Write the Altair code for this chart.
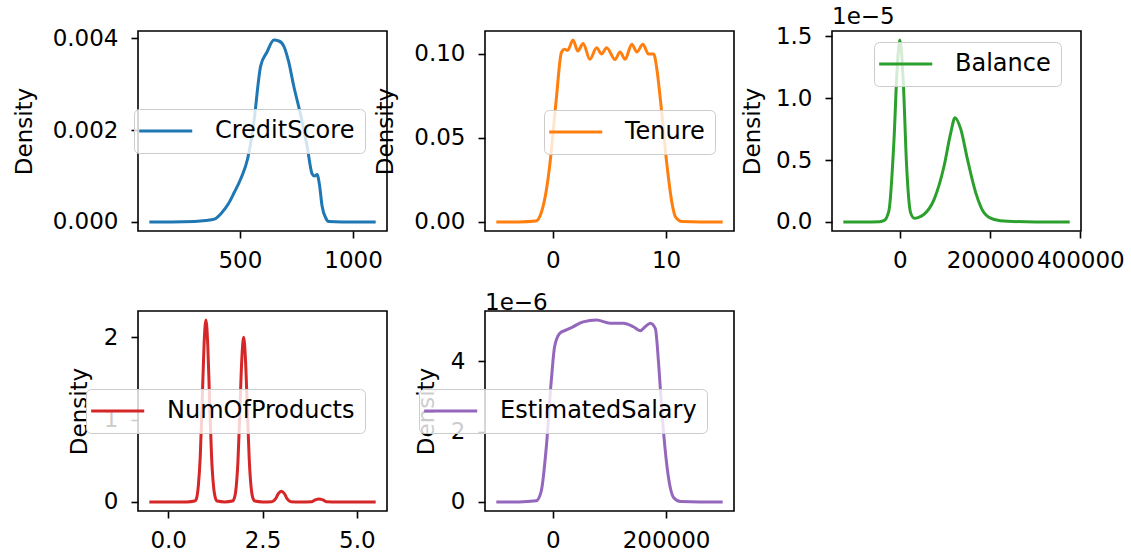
import altair as alt
import pandas as pd

# ---------------- data (KDE curves) ----------------
credit_x = [100, 200, 300, 350, 387, 420, 450, 475, 505, 534, 560, 592, 620, 650, 672, 694,
            715, 738, 770, 797, 819, 830, 841, 852, 863, 880, 892, 950, 1000, 1100]
credit_y = [0, 0, 0.00001, 0.00003, 0.00006, 0.0002, 0.0004, 0.00064, 0.00095, 0.00137,
            0.0021, 0.0034, 0.0037, 0.00396, 0.00394, 0.00383, 0.0035, 0.00296, 0.0023,
            0.00165, 0.00105, 0.001, 0.00103, 0.0008, 0.00035, 0.00008, 0.00001, 0, 0, 0]

tenure_x = [-5, -3, -1.5, -1.03, -0.6, -0.29, 0.3, 0.75, 1.04, 1.3, 1.78, 2.2, 2.67, 3.27,
            3.86, 4.3, 4.75, 5.49, 5.93, 6.38, 6.97, 7.42, 7.95, 8.45, 8.9, 9.2, 9.49, 10.09,
            10.5, 10.83, 11.42, 13, 15]
tenure_y = [0, 0, 0.0005, 0.0054, 0.018, 0.033, 0.073, 0.1006, 0.1025, 0.102, 0.108, 0.1015,
            0.106, 0.0966, 0.1035, 0.0997, 0.1035, 0.0964, 0.101, 0.0966, 0.1055, 0.101,
            0.1055, 0.0997, 0.0997, 0.09, 0.073, 0.033, 0.012, 0.003, 0.0002, 0, 0]

# Balance density in units of 1e-5
balance_x = [-125449, -80000, -45000, -35500, -24400, -13300, -5800, 0, 7500, 14900, 23800,
             32000, 40000, 53300, 75600, 97800, 112700, 122200, 134900, 149800, 168200,
             186700, 208900, 238700, 300000, 376347]
balance_y = [0, 0, 0.002, 0.01, 0.09, 0.65, 1.26, 1.47, 1.127, 0.45, 0.073, 0.03, 0.035,
             0.06, 0.18, 0.45, 0.72, 0.843, 0.75, 0.505, 0.235, 0.073, 0.02, 0.005, 0, 0]

products_x = [-0.5, 0.5, 0.7, 0.75, 0.8, 0.85, 0.9, 0.95, 1.0, 1.05, 1.1, 1.15, 1.2, 1.25,
              1.3, 1.5, 1.7, 1.75, 1.8, 1.85, 1.9, 1.95, 2.0, 2.05, 2.1, 2.15, 2.2, 2.25,
              2.3, 2.5, 2.75, 2.85, 2.92, 3.0, 3.08, 3.15, 3.25, 3.5, 3.8, 3.9, 4.0, 4.1,
              4.2, 4.5, 5.5]
products_y = [0, 0, 0.01, 0.04, 0.2, 0.55, 1.2, 1.9, 2.21, 1.9, 1.2, 0.55, 0.2, 0.05,
              0.01, 0, 0.01, 0.04, 0.17, 0.5, 1.1, 1.72, 2.0, 1.72, 1.1, 0.5, 0.17, 0.04,
              0.01, 0, 0.003, 0.04, 0.1, 0.13, 0.1, 0.04, 0.003, 0, 0.003, 0.025, 0.035,
              0.025, 0.003, 0, 0]

# EstimatedSalary density in units of 1e-6
salary_x = [-99979, -60000, -29600, -20600, -11700, -2800, 3000, 11900, 23800, 35600, 53400,
            77200, 100900, 124600, 142300, 154300, 163000, 172100, 181000, 186800, 192900,
            201800, 213500, 225500, 260000, 299982]
salary_y = [0, 0, 0.03, 0.31, 1.55, 3.46, 4.41, 4.79, 4.89, 4.98, 5.12, 5.17, 5.08, 5.08,
            4.98, 4.87, 4.98, 5.08, 4.93, 3.93, 2.5, 0.98, 0.12, 0.01, 0, 0]

names = ["CreditScore", "Tenure", "Balance", "NumOfProducts", "EstimatedSalary"]
colors = ["#1f77b4", "#ff7f0e", "#2ca02c", "#d62728", "#9467bd"]

FONT = "DejaVu Sans"
FS = 23

panels = [
    dict(x=credit_x, y=credit_y, xdom=[50, 1150], ydom=[-0.000198, 0.004158],
         xt=[500, 1000], yt=[0, 0.002, 0.004], xf="d", yf=".3f", ext=102, lx=-4, ly=78, title=None),
    dict(x=tenure_x, y=tenure_y, xdom=[-6, 16], ydom=[-0.0054, 0.1134],
         xt=[0, 10], yt=[0, 0.05, 0.10], xf="d", yf=".2f", ext=88, lx=59, ly=79, title=None),
    dict(x=balance_x, y=balance_y, xdom=[-150539, 401437], ydom=[-0.0735, 1.5435],
         xt=[0, 200000, 400000], yt=[0, 0.5, 1.0, 1.5], xf="d", yf=".1f", ext=68, lx=42, ly=11,
         title="1e\u22125"),
    dict(x=products_x, y=products_y, xdom=[-0.8, 5.8], ydom=[-0.1105, 2.3205],
         xt=[0, 2.5, 5.0], yt=[0, 1, 2], xf=".1f", yf="d", ext=47, lx=-52, ly=78, title=None),
    dict(x=salary_x, y=salary_y, xdom=[-119977, 319980], ydom=[-0.2585, 5.4285],
         xt=[0, 200000], yt=[0, 2, 4], xf="d", yf="d", ext=47, lx=-66, ly=78, title="1e\u22126"),
]


def make_panel(p, name, color):
    df = pd.DataFrame({"x": p["x"], "y": p["y"], "series": name})
    x = alt.X("x:Q",
              scale=alt.Scale(domain=p["xdom"], nice=False, zero=False),
              axis=alt.Axis(values=p["xt"], format=p["xf"], title=None, labelFlush=False,
                            labelOverlap=False, labelPadding=11))
    y = alt.Y("y:Q",
              scale=alt.Scale(domain=p["ydom"], nice=False, zero=False),
              axis=alt.Axis(values=p["yt"], format=p["yf"], title="Density", labelFlush=False,
                            labelOverlap=False, labelPadding=13, minExtent=p["ext"],
                            maxExtent=p["ext"], titlePadding=0))
    c = alt.Color("series:N",
                  scale=alt.Scale(domain=[name], range=[color]),
                  legend=alt.Legend(title=None, orient="none", legendX=p["lx"], legendY=p["ly"],
                                    symbolType="M-1,0H5", symbolSize=313, symbolStrokeWidth=3,
                                    symbolOffset=-8,
                                    labelFont=FONT, labelFontSize=24, labelColor="black",
                                    labelOffset=55, labelLimit=600, padding=10,
                                    fillColor="rgba(255,255,255,0.8)", strokeColor="#cccccc",
                                    cornerRadius=5))
    ch = alt.Chart(df).mark_line(strokeWidth=3, interpolate="monotone").encode(
        x=x, y=y, color=c).properties(width=249, height=200)
    if p["title"]:
        ch = ch.properties(title=alt.TitleParams(text=p["title"], anchor="start", frame="group",
                                                 font=FONT, fontSize=FS, fontWeight="normal",
                                                 color="black", offset=-4))
    return ch


charts = [make_panel(p, n, c) for p, n, c in zip(panels, names, colors)]

chart = alt.concat(*charts, columns=3, spacing={"row": 80, "column": 98}, bounds="flush").resolve_scale(
    color="independent", x="independent", y="independent").resolve_legend(color="independent")

chart = chart.configure_view(stroke="black", strokeWidth=1.6).configure_axis(
    labelFont=FONT, labelFontSize=FS, labelColor="black", tickColor="black", tickWidth=1.6,
    tickSize=7, domain=False, grid=False, titleFont=FONT, titleFontSize=FS,
    titleFontWeight="normal", titleColor="black").properties(
    padding={"left": 12, "top": 5, "right": 5, "bottom": 5},
    background="white")

chart.save("out.html", embed_options={"renderer": "svg", "actions": False})
